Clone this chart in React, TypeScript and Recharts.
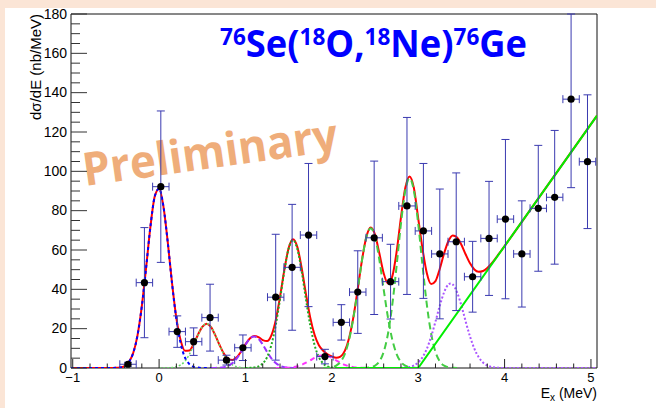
import React from "react";
import {
  ComposedChart,
  Line,
  Scatter,
  XAxis,
  YAxis,
  ErrorBar,
  ReferenceArea,
} from "recharts";

// measured spectrum: bin centre (MeV), dσ/dE (nb/MeV), statistical error
const binX = [
  -0.36, -0.17, 0.02, 0.21, 0.4, 0.59, 0.78, 0.97, 1.35, 1.54, 1.73, 1.92, 2.11,
  2.3, 2.49, 2.68, 2.87, 3.06, 3.25, 3.44, 3.63, 3.82, 4.01, 4.2, 4.39, 4.58,
  4.77, 4.96,
];
const binY = [
  1.9, 43.4, 92.2, 18.5, 13.4, 25.6, 4.0, 10.3, 36.0, 51.2, 67.6, 5.8, 23.2,
  38.6, 66.2, 43.9, 82.4, 69.7, 58.0, 64.2, 46.4, 65.9, 75.7, 58.0, 81.2, 86.8,
  136.7, 104.9,
];
// lower / upper error (the 4.77 bin runs off the top of the frame)
const binErrLow = [
  1.0, 28, 38.5, 8, 7, 17, 2.5, 6.5, 32, 32, 36.4, 3.7, 9, 21, 39, 19, 45, 34.3,
  33, 35, 18, 29, 40.5, 27, 32, 34, 45, 34,
];
const binErrHigh = [
  1.0, 28, 38.5, 8, 7, 17, 2.5, 6.5, 32, 32, 36.4, 3.7, 9, 21, 39, 19, 45, 34.3,
  33, 35, 18, 29, 40.5, 27, 32, 34, 43.3, 34,
];
const binHalfWidth = 0.095;

const xTicks = [
  -1, -0.8, -0.6, -0.4, -0.2, 0, 0.2, 0.4, 0.6, 0.8, 1, 1.2, 1.4, 1.6, 1.8, 2,
  2.2, 2.4, 2.6, 2.8, 3, 3.2, 3.4, 3.6, 3.8, 4, 4.2, 4.4, 4.6, 4.8, 5,
];
const yTicks = [
  0, 5, 10, 15, 20, 25, 30, 35, 40, 45, 50, 55, 60, 65, 70, 75, 80, 85, 90, 95,
  100, 105, 110, 115, 120, 125, 130, 135, 140, 145, 150, 155, 160, 165, 170,
  175, 180,
];

// fitted curves, as [Ex, dσ/dE]
const fitTotal: [number, number][] = [
  [-1.02, 0], [-0.6, 0], [-0.55, 0], [-0.5, 0.1], [-0.45, 0.3], [-0.4, 1.0],
  [-0.35, 3.0], [-0.3, 7.6], [-0.25, 16.6], [-0.2, 31.4], [-0.15, 51.2],
  [-0.1, 72.0], [-0.05, 87.3], [0, 91.2], [0.05, 82.2], [0.1, 64.1],
  [0.15, 43.1], [0.2, 25.4], [0.25, 14.0], [0.3, 8.8], [0.35, 8.9],
  [0.4, 12.2], [0.45, 16.9], [0.5, 20.9], [0.55, 22.5], [0.6, 20.9],
  [0.65, 16.7], [0.7, 11.7], [0.75, 7.3], [0.8, 4.6], [0.85, 4.1], [0.9, 5.5],
  [0.95, 8.4], [1.0, 12.0], [1.05, 15.0], [1.1, 16.3], [1.15, 15.7],
  [1.2, 14.2], [1.25, 13.7], [1.3, 16.6], [1.35, 24.2], [1.4, 36.1],
  [1.45, 49.9], [1.5, 61.0], [1.55, 65.5], [1.6, 61.6], [1.65, 51.0],
  [1.7, 37.7], [1.75, 25.6], [1.8, 16.9], [1.85, 11.6], [1.9, 8.8], [1.95, 7.0],
  [2.0, 5.9], [2.05, 5.2], [2.1, 5.8], [2.15, 8.7], [2.2, 15.3], [2.25, 26.0],
  [2.3, 40.2], [2.35, 55.1], [2.4, 66.7], [2.45, 71.4], [2.5, 67.8],
  [2.55, 58.3], [2.6, 48.2], [2.65, 43.0], [2.7, 46.6], [2.75, 59.1],
  [2.8, 76.5], [2.85, 91.5], [2.9, 97.4], [2.95, 91.5], [3.0, 76.1],
  [3.05, 60.6], [3.1, 48.2], [3.15, 42.7], [3.2, 44.2], [3.25, 50.5],
  [3.3, 58.3], [3.35, 64.6], [3.4, 67.4], [3.45, 66.4], [3.5, 62.7],
  [3.55, 57.7], [3.6, 53.2], [3.65, 50.1], [3.7, 48.9], [3.75, 49.3],
  [3.8, 50.9], [3.85, 53.2], [3.9, 56.0], [3.95, 59.0], [4.0, 62.0],
  [4.5, 93.0], [5.07, 128.3],
];
const gsPeak: [number, number][] = [
  [-1.02, 0], [-0.6, 0], [-0.55, 0], [-0.5, 0.1], [-0.45, 0.3], [-0.4, 1.0],
  [-0.35, 3.0], [-0.3, 7.6], [-0.25, 16.6], [-0.2, 31.4], [-0.15, 51.2],
  [-0.1, 72.0], [-0.05, 87.3], [0, 91.2], [0.05, 82.2], [0.1, 64.0],
  [0.15, 42.9], [0.2, 24.8], [0.25, 12.4], [0.3, 5.3], [0.35, 2.0], [0.4, 0.6],
  [0.45, 0.2], [0.5, 0], [0.6, 0],
];
const peak055: [number, number][] = [
  [0, 0], [0.1, 0.06], [0.15, 0.2], [0.2, 0.6], [0.25, 1.6], [0.3, 3.5],
  [0.35, 6.9], [0.4, 11.6], [0.45, 16.7], [0.5, 20.9], [0.55, 22.5],
  [0.6, 20.9], [0.65, 16.7], [0.7, 11.6], [0.75, 6.9], [0.8, 3.5], [0.85, 1.6],
  [0.9, 0.6], [0.95, 0.2], [1.0, 0.06], [1.1, 0],
];
const peak110: [number, number][] = [
  [0.6, 0], [0.65, 0.04], [0.7, 0.14], [0.75, 0.43], [0.8, 1.1], [0.85, 2.5],
  [0.9, 4.9], [0.95, 8.2], [1.0, 11.9], [1.05, 14.9], [1.1, 16], [1.15, 14.9],
  [1.2, 11.9], [1.25, 8.2], [1.3, 4.9], [1.35, 2.5], [1.4, 1.1], [1.45, 0.43],
  [1.5, 0.14], [1.55, 0.04], [1.6, 0],
];
const peak155: [number, number][] = [
  [1.0, 0], [1.05, 0.07], [1.1, 0.25], [1.15, 0.8], [1.2, 2.3], [1.25, 5.5],
  [1.3, 11.7], [1.35, 21.7], [1.4, 35.0], [1.45, 49.4], [1.5, 60.7],
  [1.55, 65], [1.6, 60.7], [1.65, 49.4], [1.7, 35.0], [1.75, 21.7],
  [1.8, 11.7], [1.85, 5.5], [1.9, 2.3], [1.95, 0.8], [2.0, 0.25], [2.05, 0.07],
  [2.1, 0],
];
const peak190: [number, number][] = [
  [1.35, 0], [1.45, 0.07], [1.5, 0.19], [1.55, 0.43], [1.6, 0.88], [1.65, 1.6],
  [1.7, 2.7], [1.75, 3.9], [1.8, 5.2], [1.85, 6.1], [1.9, 6.5], [1.95, 6.1],
  [2.0, 5.2], [2.05, 3.9], [2.1, 2.7], [2.15, 1.6], [2.2, 0.88], [2.25, 0.43],
  [2.3, 0.19], [2.35, 0.07], [2.45, 0],
];
const peak245: [number, number][] = [
  [1.9, 0], [1.95, 0.12], [2.0, 0.4], [2.05, 1.2], [2.1, 3.1], [2.15, 7.1],
  [2.2, 14.4], [2.25, 25.6], [2.3, 40.0], [2.35, 55.0], [2.4, 66.6],
  [2.45, 71], [2.5, 66.6], [2.55, 55.0], [2.6, 40.0], [2.65, 25.6],
  [2.7, 14.4], [2.75, 7.1], [2.8, 3.1], [2.85, 1.2], [2.9, 0.4], [2.95, 0.12],
  [3.0, 0],
];
const peak290: [number, number][] = [
  [2.35, 0], [2.4, 0.1], [2.45, 0.38], [2.5, 1.2], [2.55, 3.3], [2.6, 8.2],
  [2.65, 17.4], [2.7, 32.2], [2.75, 52.0], [2.8, 73.3], [2.85, 90.1],
  [2.9, 96.5], [2.95, 90.1], [3.0, 73.3], [3.05, 52.0], [3.1, 32.2],
  [3.15, 17.4], [3.2, 8.2], [3.25, 3.3], [3.3, 1.2], [3.35, 0.38], [3.4, 0.1],
  [3.45, 0],
];
const peak338: [number, number][] = [
  [2.7, 0], [2.8, 0.07], [2.85, 0.2], [2.9, 0.5], [2.95, 1.3], [3.0, 2.8],
  [3.05, 5.5], [3.1, 9.8], [3.15, 16.0], [3.2, 23.6], [3.25, 31.7],
  [3.3, 38.5], [3.35, 42.5], [3.375, 43], [3.4, 42.5], [3.45, 38.5],
  [3.5, 31.7], [3.55, 23.6], [3.6, 16.0], [3.65, 9.8], [3.7, 5.5],
  [3.75, 2.8], [3.8, 1.3], [3.85, 0.5], [3.9, 0.2], [3.95, 0.07], [4.05, 0],
  [5.07, 0],
];
const continuum: [number, number][] = [
  [2.05, 0], [3.0, 0], [5.07, 128.3],
];

const toPts = (c: [number, number][]) => c.map(([x, y]) => ({ x, y }));
const points = binX.map((x, i) => ({
  x,
  y: binY[i],
  ex: binHalfWidth,
  ey: [binErrLow[i], binErrHigh[i]],
}));

const axisFont = "'Liberation Sans', Arial, sans-serif";

// ROOT-style ticks: drawn inward from the frame, labels only on majors
const XTick = (props: any) => {
  const { x, y, payload } = props;
  const v = payload.value;
  const major = Math.abs(v - Math.round(v)) < 1e-6;
  return (
    <g>
      <line x1={x} x2={x} y1={y} y2={y - (major ? 9 : 4.5)} stroke="#222" />
      {major && (
        <text x={x} y={y + 14} textAnchor="middle" fontSize={13} fontFamily={axisFont} fill="#000">
          {v < 0 ? "\u2212" + Math.abs(v) : String(Math.round(v))}
        </text>
      )}
    </g>
  );
};

const YTick = (props: any) => {
  const { x, y, payload } = props;
  const v = payload.value;
  const major = v % 20 === 0;
  return (
    <g>
      <line x1={x} x2={x + (major ? 16 : 9)} y1={y} y2={y} stroke="#333" />
      {major && (
        <text x={x - 4} y={y + 4.5} textAnchor="end" fontSize={14} fontFamily={axisFont} fill="#000">
          {v}
        </text>
      )}
    </g>
  );
};

const dot = (props: any) => <circle cx={props.cx} cy={props.cy} r={3.6} fill="#000" />;

const curve = (
  key: string,
  data: [number, number][],
  stroke: string,
  dash?: string,
  width = 2,
  type: "monotone" | "linear" = "monotone"
) => (
  <Line
    key={key}
    data={toPts(data)}
    dataKey="y"
    type={type}
    stroke={stroke}
    strokeWidth={width}
    strokeDasharray={dash}
    dot={false}
    activeDot={false}
    isAnimationActive={false}
  />
);

export default function App() {
  return (
    <div style={{ position: "absolute", left: 0, top: 0, width: 656, height: 408, background: "#fbe5d6", overflow: "hidden" }}>
      <div style={{ position: "absolute", left: 5, top: 8, width: 651, height: 400, background: "#fff" }} />
      <svg width={656} height={408} style={{ position: "absolute", left: 0, top: 0 }}>
        <text
          x={85}
          y={186}
          transform="rotate(-8 85 186)"
          fontFamily="'Open Sans', sans-serif"
          fontWeight={700}
          fontSize={46}
          fill="#efad7a"
          textLength={257}
          lengthAdjust="spacingAndGlyphs"
        >
          Preliminary
        </text>
        <text
          x={220}
          y={57}
          fontFamily="'Open Sans', sans-serif"
          fontWeight={700}
          fontSize={37}
          fill="#0000ff"
          textLength={307}
          lengthAdjust="spacingAndGlyphs"
        >
          <tspan fontSize={23} dy={-12}>76</tspan>
          <tspan dy={12}>Se(</tspan>
          <tspan fontSize={23} dy={-12}>18</tspan>
          <tspan dy={12}>O,</tspan>
          <tspan fontSize={23} dy={-12}>18</tspan>
          <tspan dy={12}>Ne)</tspan>
          <tspan fontSize={23} dy={-12}>76</tspan>
          <tspan dy={12}>Ge</tspan>
        </text>
        <text
          transform="translate(41 14) rotate(-90)"
          textAnchor="end"
          fontFamily={axisFont}
          fontSize={15}
          fill="#000"
        >
          dσ/dE (nb/MeV)
        </text>
        <text x={597} y={398} textAnchor="end" fontFamily={axisFont} fontSize={14} fill="#000">
          E<tspan fontSize={10} dy={3}>x</tspan>
          <tspan dy={-3}> (MeV)</tspan>
        </text>
      </svg>
      <div style={{ position: "absolute", left: 0, top: 0 }}>
        <ComposedChart width={656} height={408} margin={{ top: 14, right: 59, bottom: 0, left: 0 }}>
          <XAxis
            type="number"
            dataKey="x"
            domain={[-1.02, 5.07]}
            ticks={xTicks}
            interval={0}
            tickSize={0}
            tickMargin={0}
            tickLine={false}
            axisLine={false}
            tick={XTick}
            height={40}
            allowDataOverflow
          />
          <YAxis
            type="number"
            domain={[0, 180]}
            ticks={yTicks}
            interval={0}
            tickSize={0}
            tickMargin={0}
            tickLine={false}
            axisLine={false}
            tick={YTick}
            width={71}
            allowDataOverflow
          />
          <ReferenceArea x1={-1.02} x2={5.07} y1={0} y2={180} fill="none" stroke="#111" strokeWidth={1} />
          {curve("total", fitTotal, "#ff0000")}
          {curve("gs", gsPeak, "#0000ff", "3 3")}
          {curve("p055", peak055, "#66dd66", "2 2", 1.5)}
          {curve("p110", peak110, "#9933ff", "6 3")}
          {curve("p155", peak155, "#22aa22", "2 2")}
          {curve("p190", peak190, "#ff33ff", "5 4")}
          {curve("p245", peak245, "#44cc44", "7 4")}
          {curve("p290", peak290, "#44cc44", "7 4")}
          {curve("p338", peak338, "#aa55ff", "2 2")}
          {curve("cont", continuum, "#00ee00", undefined, 2, "linear")}
          <Scatter data={points} dataKey="y" shape={dot} isAnimationActive={false}>
            <ErrorBar dataKey="ex" direction="x" width={4} stroke="#3a3ab0" strokeWidth={1} />
            <ErrorBar dataKey="ey" direction="y" width={4} stroke="#3a3ab0" strokeWidth={1} />
          </Scatter>
        </ComposedChart>
      </div>
    </div>
  );
}
